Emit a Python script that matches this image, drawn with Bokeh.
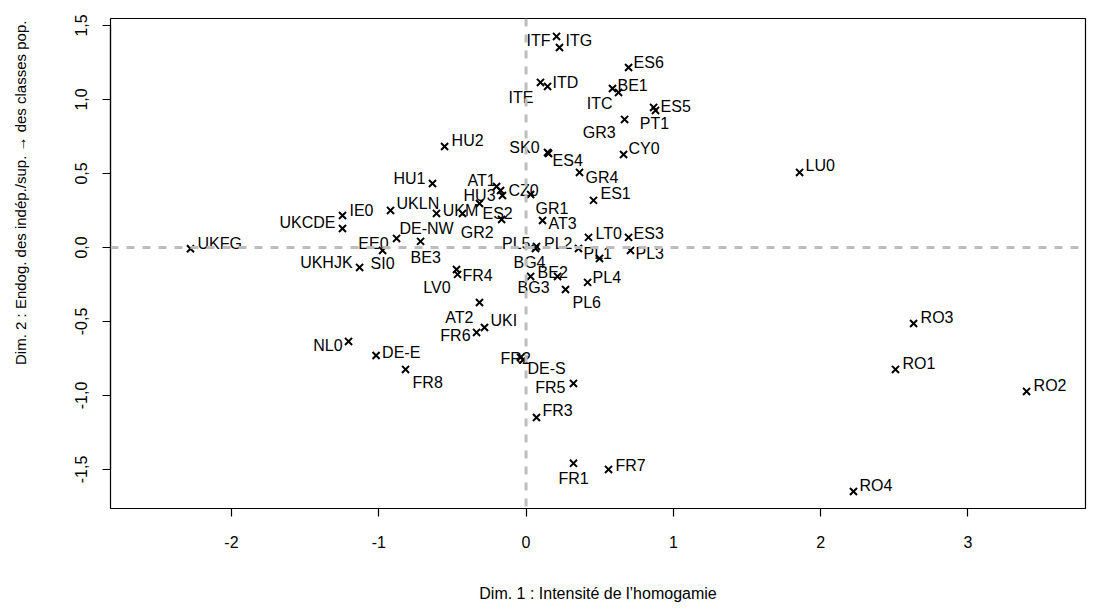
import math
from bokeh.plotting import figure
from bokeh.layouts import row
from bokeh.models import (ColumnDataSource, FixedTicker, Span, Range1d,
                          CustomJSTickFormatter)
from bokeh.core.properties import value
from bokeh.embed import file_html
from bokeh.resources import INLINE

# ---- data: coordinates of regions on the two first factorial dimensions ----
regions = ["UKFG", "UKCDE", "IE0", "UKLN", "HU1", "DE-NW", "UKM", "ES2", "GR2", "AT1",
           "HU3", "CZ0", "GR1", "AT3", "EE0", "BE3", "UKHJK", "SI0", "FR4", "LV0",
           "AT2", "UKI", "FR6", "PL5", "BG4", "PL2", "PL1", "LT0", "ES3", "PL3",
           "BE2", "BG3", "PL6", "PL4", "ITF", "ITG", "ITE", "ITD", "ES6", "BE1",
           "ITC", "ES5", "PT1", "GR3", "SK0", "ES4", "CY0", "GR4", "ES1", "HU2",
           "LU0", "RO3", "RO1", "RO2", "RO4", "NL0", "DE-E", "FR8", "FR2", "DE-S",
           "FR5", "FR3", "FR1", "FR7"]
dim1 = [-2.278, -1.246, -1.246, -0.920, -0.635, -0.608, -0.431, -0.316, -0.166, -0.200,
        -0.173, -0.160, 0.031, 0.112, -0.879, -0.716, -1.130, -0.974, -0.472, -0.465,
        -0.316, -0.282, -0.336, 0.071, 0.064, 0.356, 0.499, 0.424, 0.696, 0.709,
        0.214, 0.031, 0.268, 0.418, 0.207, 0.227, 0.098, 0.146, 0.696, 0.587,
        0.628, 0.866, 0.879, 0.669, 0.146, 0.153, 0.662, 0.363, 0.458, -0.553,
        1.857, 2.631, 2.508, 3.398, 2.223, -1.205, -1.018, -0.818, -0.037, -0.017,
        0.322, 0.071, 0.322, 0.560]
dim2 = [-0.009, 0.128, 0.216, 0.250, 0.432, 0.230, 0.230, 0.297, 0.189, 0.412,
        0.385, 0.351, 0.358, 0.182, 0.061, 0.041, -0.135, -0.020, -0.149, -0.182,
        -0.372, -0.541, -0.574, 0.007, -0.007, -0.007, -0.074, 0.068, 0.068, -0.020,
        -0.196, -0.196, -0.284, -0.236, 1.426, 1.351, 1.115, 1.088, 1.216, 1.074,
        1.047, 0.946, 0.926, 0.865, 0.642, 0.635, 0.628, 0.507, 0.318, 0.682,
        0.507, -0.514, -0.824, -0.973, -1.649, -0.635, -0.730, -0.824, -0.743, -0.757,
        -0.919, -1.149, -1.459, -1.500]

x_ticks = [-2, -1, 0, 1, 2, 3]
y_ticks = [-1.5, -1.0, -0.5, 0.0, 0.5, 1.0, 1.5]

x_title = "Dim. 1 : Intensité de l’homogamie"
y_title = "Dim. 2 : Endog. des indép./sup. → des classes pop."

# ---- label placement (alignment, pixel offsets from the point; dy screen-down) ----
placement = {
    "UKFG": ("left", 7, -5), "UKCDE": ("right", -7, -6), "IE0": ("left", 7, -5),
    "UKLN": ("left", 6, -7), "HU1": ("right", -7, -5), "DE-NW": ("left", -37, 15),
    "UKM": ("center", -2, -3), "ES2": ("left", 3, 10), "GR2": ("right", -8, 13),
    "AT1": ("right", -1, -6), "HU3": ("right", -5, 5), "CZ0": ("left", 6, -5),
    "GR1": ("left", 5, 14), "AT3": ("left", 6, 3), "EE0": ("right", -8, 5),
    "BE3": ("left", -10, 16), "UKHJK": ("right", -7, -5), "SI0": ("left", -12, 13),
    "FR4": ("left", 6, 6), "LV0": ("right", -7, 13), "AT2": ("right", -6, 15),
    "UKI": ("left", 6, -7), "FR6": ("right", -6, 3), "PL5": ("right", -6, -3),
    "BG4": ("right", 10, 14), "PL2": ("right", -6, -5), "PL1": ("left", -16, -5),
    "LT0": ("left", 7, -4), "ES3": ("left", 5, -4), "PL3": ("left", 5, 3),
    "BE2": ("left", -20, -4), "BG3": ("left", -13, 11), "PL6": ("left", 7, 13),
    "PL4": ("left", 5, -5), "ITF": ("right", -6, 4), "ITG": ("left", 6, -7),
    "ITE": ("right", -7, 15), "ITD": ("left", 5, -4), "ES6": ("left", 5, -5),
    "BE1": ("left", 5, -3), "ITC": ("right", -6, 11), "ES5": ("left", 7, -1),
    "PT1": ("center", -1, 13), "GR3": ("right", -9, 13), "SK0": ("right", -8, -5),
    "ES4": ("left", 4, 7), "CY0": ("left", 5, -6), "GR4": ("left", 6, 5),
    "ES1": ("left", 7, -7), "HU2": ("left", 7, -6), "LU0": ("left", 6, -7),
    "RO3": ("left", 7, -6), "RO1": ("left", 7, -6), "RO2": ("left", 7, -6),
    "RO4": ("left", 6, -6), "NL0": ("right", -6, 4), "DE-E": ("left", 6, -3),
    "FR8": ("left", 7, 13), "FR2": ("left", -20, 1), "DE-S": ("left", 4, 9),
    "FR5": ("right", -8, 4), "FR3": ("left", 6, -7), "FR1": ("left", -15, 15),
    "FR7": ("left", 7, -4),
}

FONT = "Liberation Sans"
FW, FH = 975, 490
TITLE_W, TOTAL_H = 40, 602

p = figure(frame_width=FW, frame_height=FH,
           x_range=Range1d(-2.821, 3.798), y_range=Range1d(-1.764, 1.547),
           output_backend="svg", toolbar_location=None,
           min_border_left=110 - TITLE_W, min_border_top=18, min_border_right=5,
           min_border_bottom=94,
           background_fill_color="white", border_fill_color="white")
p.xgrid.visible = False
p.ygrid.visible = False
p.outline_line_color = "black"
p.outline_line_width = 1.2
p.outline_line_alpha = 1.0

for ax, ticks, fmt in ((p.xaxis[0], x_ticks, "return tick.toFixed(0);"),
                       (p.yaxis[0], y_ticks, "return tick.toFixed(1).replace('.', ',');")):
    ax.ticker = FixedTicker(ticks=ticks)
    ax.formatter = CustomJSTickFormatter(code=fmt)
    ax.bounds = (min(ticks), max(ticks))
    ax.major_tick_out = 8
    ax.major_tick_in = 0
    ax.minor_tick_line_color = None
    ax.axis_line_color = "black"
    ax.axis_line_width = 1.2
    ax.major_tick_line_color = "black"
    ax.major_tick_line_width = 1.2
    ax.major_label_text_font = FONT
    ax.major_label_text_font_size = "16px"
    ax.major_label_text_color = "black"

p.xaxis.major_label_standoff = 19
p.yaxis.major_label_standoff = 15
p.yaxis.major_label_orientation = "vertical"
p.xaxis.axis_label = x_title
p.xaxis.axis_label_text_font = FONT
p.xaxis.axis_label_text_font_size = "16px"
p.xaxis.axis_label_text_font_style = "normal"
p.xaxis.axis_label_text_color = "black"
p.xaxis.axis_label_standoff = 34

# reference lines
p.add_layout(Span(location=0, dimension="width", line_color="#bdbdbd",
                  line_width=3, line_dash="8 8"))
p.add_layout(Span(location=0, dimension="height", line_color="#bdbdbd",
                  line_width=3, line_dash="8 8"))

# points
src = ColumnDataSource(dict(x=dim1, y=dim2, name=regions))
p.scatter("x", "y", source=src, marker="x", size=10, line_width=2, line_color="black")

# labels
for align in ("left", "right", "center"):
    sel = [i for i, r in enumerate(regions) if placement[r][0] == align]
    s = ColumnDataSource(dict(
        x=[dim1[i] for i in sel], y=[dim2[i] for i in sel],
        name=[regions[i] for i in sel],
        dx=[placement[regions[i]][1] for i in sel],
        dy=[placement[regions[i]][2] for i in sel]))
    p.text("x", "y", text="name", source=s, x_offset="dx", y_offset="dy",
           text_align=align, text_baseline="alphabetic",
           text_font=value(FONT), text_font_size="16px", text_color="black")

# narrow strip carrying the vertical y-axis title (placed as in the reference)
t = figure(width=TITLE_W, height=TOTAL_H, x_range=Range1d(0, TITLE_W),
           y_range=Range1d(0, TOTAL_H), output_backend="svg", toolbar_location=None,
           min_border=0, outline_line_color=None,
           background_fill_color="white", border_fill_color="white")
t.axis.visible = False
t.grid.visible = False
t.text(x=[20], y=[TOTAL_H - 215], text=[y_title], angle=math.pi / 2,
       text_align="center", text_baseline="middle",
       text_font=value(FONT), text_font_size="15px", text_color="black")

layout = row(t, p)
open("out.html", "w").write(file_html(layout, INLINE))
